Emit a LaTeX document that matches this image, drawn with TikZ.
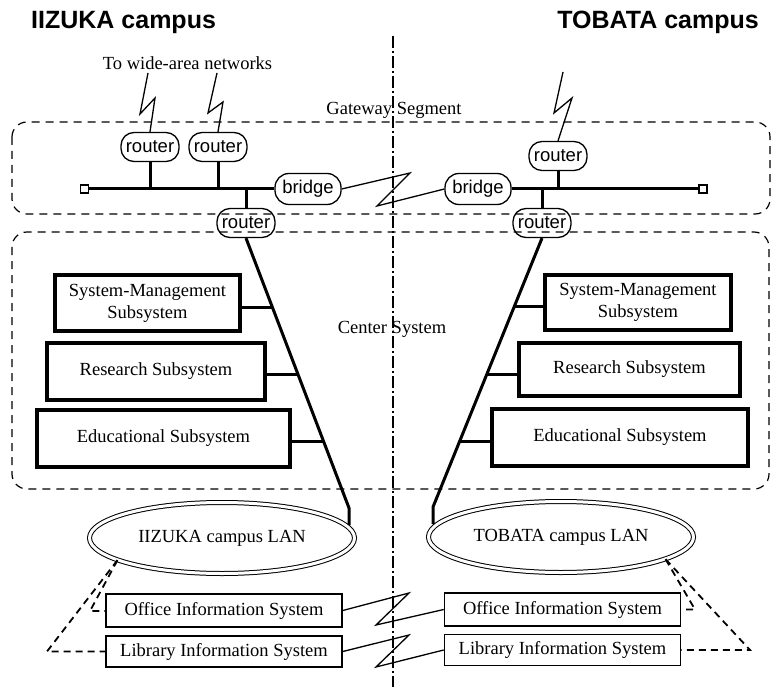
\documentclass[tikz,border=0pt]{standalone}
\usepackage{fontspec}
\setmainfont{Liberation Serif}
\newfontfamily\labelsans{Liberation Sans}
\usetikzlibrary{shapes.geometric,calc}
\begin{document}
\begin{tikzpicture}[x=1pt,y=-1pt,
  txt/.style={font=\fontsize{18.5}{21}\selectfont, inner sep=0pt},
  campus/.style={font=\labelsans\bfseries\fontsize{25}{28}\selectfont, inner sep=0pt},
  rtr/.style={draw, line width=1.3pt, rounded corners=13pt, minimum width=58pt,
    minimum height=29pt, inner sep=0pt, font=\labelsans\fontsize{18.5}{20}\selectfont},
  brg/.style={rtr, minimum width=66pt, minimum height=31pt, rounded corners=14pt},
  endsq/.style={draw, line width=1.1pt, minimum size=8pt, inner sep=0pt, fill=white},
  subsys/.style={draw, line width=4pt, inner sep=0pt, align=center,
    font=\fontsize{18.5}{22}\selectfont},
  infobox/.style={draw, line width=1.6pt, inner sep=0pt,
    font=\fontsize{18.5}{21}\selectfont},
  lan/.style={ellipse, draw, double, double distance=3pt, line width=1pt,
    inner sep=0pt, minimum width=265pt, minimum height=71pt,
    font=\fontsize{18.5}{21}\selectfont},
  segment/.style={draw, line width=1.2pt, dash pattern=on 8pt off 6pt, rounded corners=15pt},
  bus/.style={line width=3pt},
  tap/.style={line width=2.6pt},
  bolt/.style={line width=1.3pt, line join=miter},
  lanlink/.style={line width=1.8pt, dash pattern=on 7pt off 5pt},
  border/.style={line width=1.3pt, dash pattern=on 12pt off 3pt on 2pt off 3pt}
]
\useasboundingbox (0,0) rectangle (773,687);

% dashed segment frames
\draw[segment] (12,122) rectangle (770,214);
\draw[segment] (12,232) rectangle (769,489);

% captions
\node[campus, anchor=base west] (tIiz) at (31,29) {IIZUKA campus};
\node[campus, anchor=base east] (tTob) at (759,29) {TOBATA campus};
\node[txt, anchor=base] (twan) at (187.5,70) {To wide-area networks};
\node[txt, anchor=base] (tgw) at (394,115) {Gateway Segment};
\node[txt, anchor=base] (tcs) at (392,333) {Center System};

% gateway segment devices
\node[rtr] (r1) at (150,147) {router};
\node[rtr] (r2) at (218,147) {router};
\node[rtr] (r3) at (246,223) {router};
\node[brg] (b1) at (308,189) {bridge};
\node[brg] (b2) at (478,189) {bridge};
\node[rtr] (r4) at (558,156) {router};
\node[rtr] (r5) at (542,223) {router};
\node[endsq] (sq1) at (84.5,189) {};
\node[endsq] (sq2) at (703,189) {};

% gateway buses
\draw[bus] (sq1.east) -- (b1.west);
\draw[bus] (r1.south) -- (r1.south |- sq1.east);
\draw[bus] (r2.south) -- (r2.south |- sq1.east);
\draw[bus] (r3.north) -- (r3.north |- sq1.east);
\draw[bus] (b2.east) -- (sq2.west);
\draw[bus] (r4.south) -- (r4.south |- sq2.west);
\draw[bus] (r5.north) -- (r5.north |- sq2.west);

% wide-area links
\coordinate (w1) at (148,73);
\coordinate (w2) at (217,73);
\coordinate (w3) at (563,72);
\draw[bolt] (w1) -- (140,114) -- (155,98) -- (r1.north);
\draw[bolt] (w2) -- (208,113) -- (223,102) -- (r2.north);
\draw[bolt] (w3) -- (554,113) -- (572,98) -- (r4.north);
\draw[bolt] (b1.east) -- (410,173) -- (377,206) -- (b2.west);

% center system subsystems
\node[subsys, minimum width=185pt, minimum height=56pt] (smL) at (147.5,303) {System-Management\\Subsystem};
\node[subsys, minimum width=218pt, minimum height=57pt] (rsL) at (156,371.5) {Research Subsystem};
\node[subsys, minimum width=253pt, minimum height=57pt] (edL) at (163.5,438) {Educational Subsystem};
\node[subsys, minimum width=186pt, minimum height=55pt] (smR) at (638,302.5) {System-Management\\Subsystem};
\node[subsys, minimum width=221pt, minimum height=53pt] (rsR) at (629.5,369.5) {Research Subsystem};
\node[subsys, minimum width=256pt, minimum height=57pt] (edR) at (620,437.5) {Educational Subsystem};

% campus LANs
\node[lan] (lanL) at (222,538) {IIZUKA campus LAN};
\node[lan] (lanR) at (561,537) {TOBATA campus LAN};

% backbone lines from the center routers down to the LANs
\coordinate (kL) at (349,508);
\coordinate (eL) at (349,525);
\coordinate (kR) at (433,507);
\coordinate (eR) at (433,524);
\draw[bus, line join=round] (r3.south) -- (kL) -- (eL);
\draw[bus, line join=round] (r5.south) -- (kR) -- (eR);
\coordinate (tL1) at ($(r3.south)!0.2565!(kL)$);
\coordinate (tL2) at ($(r3.south)!0.5056!(kL)$);
\coordinate (tL3) at ($(r3.south)!0.7546!(kL)$);
\coordinate (tR1) at ($(r5.south)!0.2537!(kR)$);
\coordinate (tR2) at ($(r5.south)!0.5075!(kR)$);
\coordinate (tR3) at ($(r5.south)!0.757!(kR)$);
\draw[tap] (tL1) -- (tL1 -| smL.east);
\draw[tap] (tL2) -- (tL2 -| rsL.east);
\draw[tap] (tL3) -- (tL3 -| edL.east);
\draw[tap] (tR1) -- (tR1 -| smR.west);
\draw[tap] (tR2) -- (tR2 -| rsR.west);
\draw[tap] (tR3) -- (tR3 -| edR.west);

% office and library systems
\node[infobox, minimum width=236pt, minimum height=33pt] (ofL) at (224,610.5) {Office Information System};
\node[infobox, minimum width=236pt, minimum height=31pt] (liL) at (224,651.5) {Library Information System};
\node[infobox, minimum width=236pt, minimum height=33pt] (ofR) at (562.5,609.5) {Office Information System};
\node[infobox, minimum width=236pt, minimum height=31pt] (liR) at (562.5,650) {Library Information System};

\draw[bolt] (ofL.east) -- (409,593) -- (376,625) -- (ofR.west);
\draw[bolt] (liL.east) -- (409,635) -- (376,667) -- (liR.west);

% dashed attachments to the campus LANs
\coordinate (dL1) at (90,611);
\coordinate (dL2) at (47,651.5);
\coordinate (dR1) at (695,609.5);
\coordinate (dR2) at (750,650);
\draw[lanlink] (lanL.192) -- (dL1) -- (dL1 -| ofL.west);
\draw[lanlink] (lanL.192) -- (dL2) -- (dL2 -| liL.west);
\draw[lanlink] (lanR.348) -- (dR1) -- (dR1 -| ofR.east);
\draw[lanlink] (lanR.348) -- (dR2) -- (dR2 -| liR.east);

% campus boundary
\coordinate (bdTop) at (393,36);
\coordinate (bdBot) at (393,687);
\draw[border] (bdTop) -- (bdBot);
\end{tikzpicture}
\end{document}
